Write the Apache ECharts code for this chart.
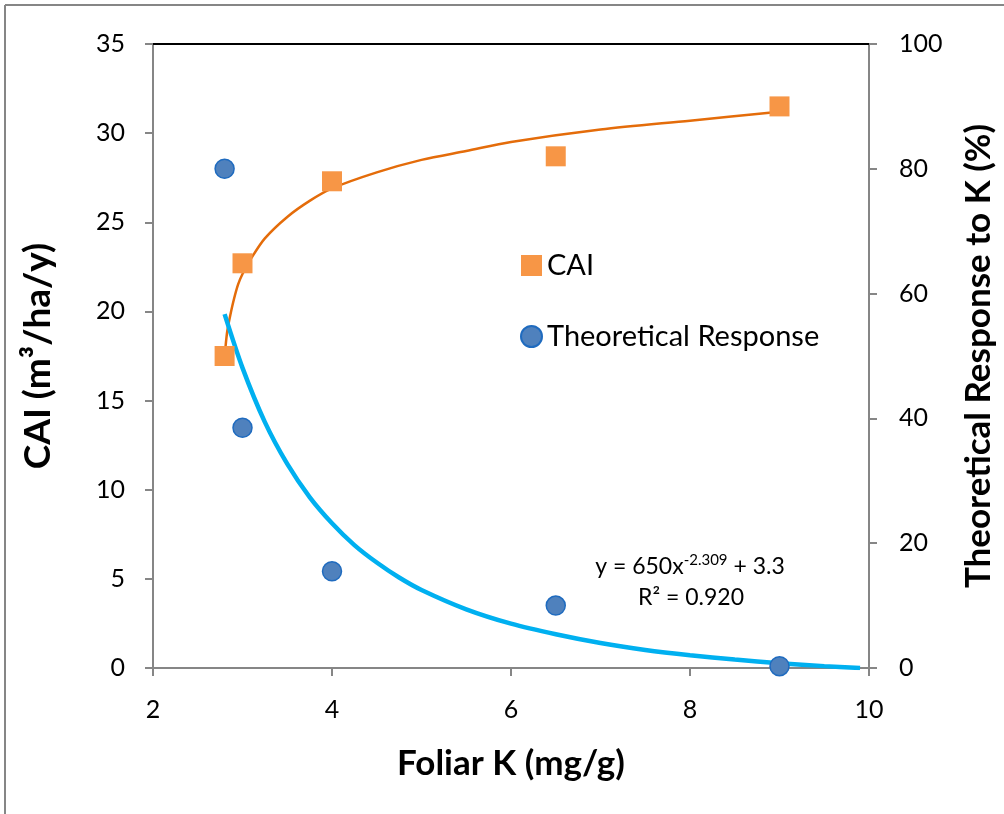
<!DOCTYPE html>
<html><head><meta charset="utf-8">
<script src="https://cdn.jsdelivr.net/npm/echarts@6/dist/echarts.min.js"></script>
<style>html,body{margin:0;padding:0;background:#fff}#c{width:1004px;height:814px}</style>
</head><body><div id="c"></div>
<script>
// Measured points
const foliarK = [2.8, 3, 4, 6.5, 9];
const caiValues = [17.5, 22.7, 27.3, 28.7, 31.5];
const responseValues = [80, 38.5, 15.5, 10, 0.3];
// Trend line for CAI
const caiTrendX = [2.81, 2.83, 2.86, 2.9, 2.95, 3.0, 3.1, 3.25, 3.5, 3.75, 4.0, 4.5, 5, 5.5, 6, 7, 8, 9];
const caiTrendY = [18.0, 18.9, 19.7, 20.6, 21.5, 22.1, 23.0, 24.1, 25.3, 26.2, 26.9, 27.8, 28.5, 29.0, 29.5, 30.2, 30.7, 31.2];
// Power trend line for Theoretical Response
const respTrendX = [2.8, 3.0, 3.25, 3.5, 3.75, 4.0, 4.25, 4.5, 4.75, 5.0, 5.5, 6.0, 6.5, 7.0, 7.5, 8.0, 8.5, 9.0, 9.5, 9.9];
const respTrendY = [56.7, 48.1, 39.4, 32.7, 27.4, 23.2, 19.7, 16.9, 14.5, 12.5, 9.4, 7.1, 5.4, 4.0, 2.9, 2.05, 1.35, 0.77, 0.3, 0];
const xTicks = [2, 4, 6, 8, 10];

const zip = (a, b) => a.map((v, i) => [v, b[i]]);
const FONT = 'Lato, "Open Sans", sans-serif';
const chart = echarts.init(document.getElementById('c'), null, {renderer: 'canvas'});
const axisLine = {show: true, lineStyle: {color: '#868686', width: 2}};
const axisTick = {show: true, inside: false, length: 8, lineStyle: {color: '#868686', width: 2}};
const nameStyle = {fontFamily: FONT, fontSize: 35, fontWeight: 'bold', color: '#000'};
chart.setOption({
  animation: false,
  backgroundColor: '#fff',
  grid: {left: 153, right: 134, top: 44, bottom: 146},
  legend: {
    orient: 'vertical', left: 515, top: 246, itemGap: 42,
    itemWidth: 21, itemHeight: 21,
    textStyle: {fontFamily: FONT, fontSize: 29, color: '#000'},
    data: [{name: 'CAI', icon: 'rect'}, {name: 'Theoretical Response', icon: 'circle'}]
  },
  xAxis: [{
    type: 'value', min: xTicks[0], max: xTicks[xTicks.length - 1], interval: 2,
    axisLine, axisTick, splitLine: {show: false},
    axisLabel: {fontFamily: FONT, fontSize: 25, color: '#000', margin: 29},
    name: 'Foliar K (mg/g)', nameLocation: 'middle', nameGap: 78,
    nameTextStyle: nameStyle
  }, {
    type: 'value', position: 'top', min: 2, max: 10,
    axisLine: {show: true, onZero: false, lineStyle: {color: '#000', width: 2}},
    axisTick: {show: false}, axisLabel: {show: false}, splitLine: {show: false}
  }],
  yAxis: [{
    type: 'value', min: 0, max: 35, interval: 5,
    axisLine, axisTick, splitLine: {show: false},
    axisLabel: {fontFamily: FONT, fontSize: 25, color: '#000', margin: 28},
    name: 'CAI (m³/ha/y)', nameLocation: 'middle', nameGap: 96, nameRotate: 90,
    nameTextStyle: Object.assign({}, nameStyle, {fontSize: 37})
  }, {
    type: 'value', min: 0, max: 100, interval: 20, position: 'right',
    axisLine, axisTick, splitLine: {show: false},
    axisLabel: {fontFamily: FONT, fontSize: 25, color: '#000', margin: 30},
    name: 'Theoretical Response to K (%)', nameLocation: 'middle', nameGap: 92, nameRotate: 90,
    nameTextStyle: nameStyle
  }],
  series: [{
    name: 'CAI trend', type: 'line', yAxisIndex: 0, data: zip(caiTrendX, caiTrendY),
    smooth: 0.3, showSymbol: false, symbol: 'none', silent: true,
    lineStyle: {color: '#e46c0a', width: 2.5}, z: 2
  }, {
    name: 'Response trend', type: 'line', yAxisIndex: 1, data: zip(respTrendX, respTrendY),
    smooth: 0.3, showSymbol: false, symbol: 'none', silent: true,
    lineStyle: {color: '#00b0f0', width: 4.5}, z: 2
  }, {
    name: 'CAI', type: 'scatter', yAxisIndex: 0, data: zip(foliarK, caiValues),
    symbol: 'rect', symbolSize: 20, itemStyle: {color: '#f79646', opacity: 1}, z: 3
  }, {
    name: 'Theoretical Response', type: 'scatter', yAxisIndex: 1, data: zip(foliarK, responseValues),
    symbol: 'circle', symbolSize: 19,
    itemStyle: {color: '#4f81bd', borderColor: '#1f6bbf', borderWidth: 1.5, opacity: 1}, z: 3
  }],
  graphic: [
    {type: 'line', shape: {x1: 5, y1: 5, x2: 1004, y2: 5}, style: {stroke: '#868686', lineWidth: 2}},
    {type: 'line', shape: {x1: 5, y1: 5, x2: 5, y2: 814}, style: {stroke: '#868686', lineWidth: 2}},
    {type: 'text', x: 690, y: 567, style: {
      align: 'center', verticalAlign: 'middle',
      rich: {
        n: {fontFamily: FONT, fontSize: 23, fill: '#000'},
        s: {fontFamily: FONT, fontSize: 15, fill: '#000', padding: [0, 0, 14, 0]}
      },
      text: '{n|y = 650x}{s|-2.309}{n| + 3.3}'
    }},
    {type: 'text', x: 691, y: 598, style: {
      align: 'center', verticalAlign: 'middle',
      rich: {n: {fontFamily: FONT, fontSize: 23, fill: '#000'}},
      text: '{n|R² = 0.920}'
    }}
  ]
});
</script></body></html>
